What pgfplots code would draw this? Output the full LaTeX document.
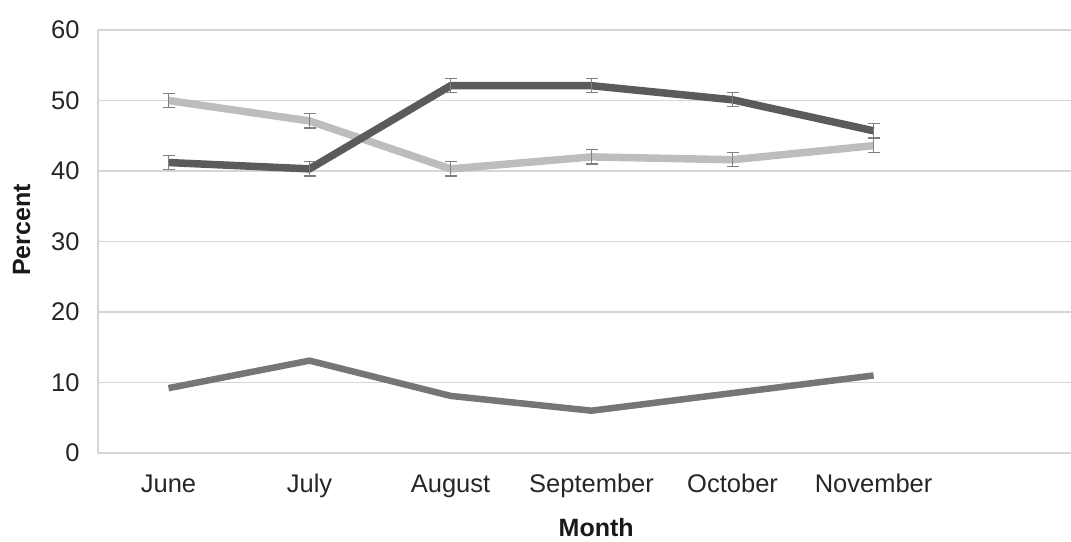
\documentclass[border=0pt]{standalone}
\usepackage{pgfplots}
\pgfplotsset{compat=1.18}
\usepackage{fontspec}
\setmainfont{Liberation Sans}

\definecolor{darkline}{HTML}{5B5B5B}
\definecolor{lightline}{HTML}{BDBDBD}
\definecolor{midline}{HTML}{767676}
\definecolor{gridc}{HTML}{D6D6D6}
\definecolor{errc}{HTML}{808080}

\begin{document}
\begin{tikzpicture}
\begin{axis}[
  scale only axis, width=973bp, height=423bp,
  xmin=-0.5, xmax=6.4, ymin=0, ymax=60,
  xtick={0,1,2,3,4,5},
  xticklabels={June,July,August,September,October,November},
  ytick={0,10,20,30,40,50,60},
  ymajorgrids, grid style={gridc, line width=1.3bp},
  axis lines*=left,
  axis line style={gridc, line width=1.3bp},
  major tick length=0pt,
  /pgf/number format/assume math mode=true,
  tick label style={font=\fontsize{25.5bp}{30bp}\selectfont, text=black!85},
  yticklabel style={xshift=-15bp},
  xticklabel style={text height=18bp, text depth=5bp, yshift=-18bp},
  xlabel={Month}, ylabel={Percent},
  label style={font=\fontsize{25bp}{30bp}\selectfont\bfseries, text=black!90},
  xlabel style={at={(axis description cs:0.512,0)}, anchor=north, yshift=-62bp},
  ylabel style={at={(axis description cs:0,0.527)}, anchor=south, yshift=64bp},
  clip=false,
]
\addplot[midline, line width=6.5bp, line join=round] coordinates {
  (0,9.2) (1,13.1) (2,8.1) (3,6.0) (4,8.5) (5,11.0)
};
\addplot[lightline, line width=7.5bp, line join=round,
  error bars/.cd, y dir=both, y explicit,
  error bar style={errc, line width=1.2bp},
  error mark options={rotate=90, mark size=6bp, errc, line width=1.2bp}]
  coordinates {
  (0,50.0) +- (0,1) (1,47.1) +- (0,1) (2,40.3) +- (0,1)
  (3,42.0) +- (0,1) (4,41.6) +- (0,1) (5,43.6) +- (0,1)
};
\addplot[darkline, line width=7.5bp, line join=round,
  error bars/.cd, y dir=both, y explicit,
  error bar style={errc, line width=1.2bp},
  error mark options={rotate=90, mark size=6bp, errc, line width=1.2bp}]
  coordinates {
  (0,41.2) +- (0,1) (1,40.3) +- (0,1) (2,52.1) +- (0,1)
  (3,52.1) +- (0,1) (4,50.1) +- (0,1) (5,45.7) +- (0,1)
};
\end{axis}
\pgfresetboundingbox
\path[use as bounding box] ([xshift=-98bp,yshift=-88bp]current axis.south west) rectangle ([yshift=30bp]current axis.north east);
\end{tikzpicture}
\end{document}
